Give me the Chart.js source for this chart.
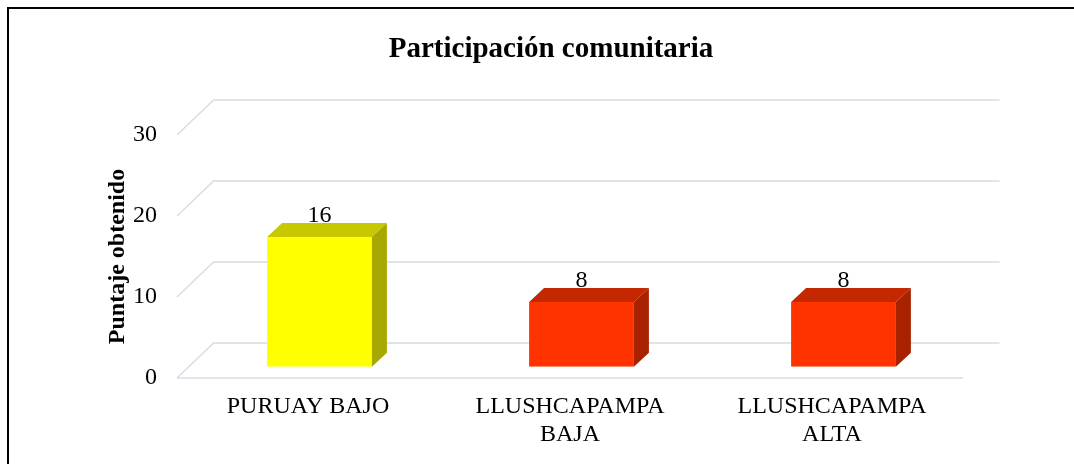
<!DOCTYPE html>
<html>
<head>
<meta charset="utf-8">
<script src="https://cdn.jsdelivr.net/npm/chart.js@4"></script>
<style>
  body { margin: 0; background: #fff; }
  canvas { display: block; }
</style>
</head>
<body>
<canvas id="chart" width="1074" height="464"></canvas>
<script>
const categories = [["PURUAY BAJO"], ["LLUSHCAPAMPA", "BAJA"], ["LLUSHCAPAMPA", "ALTA"]];
const puntajes = [16, 8, 8];
const yTicks = [0, 10, 20, 30];
const frontColors = ["#ffff00", "#ff3300", "#ff3300"];
const topColors = ["#c8c800", "#c42800", "#c42800"];
const sideColors = ["#a8a800", "#a82200", "#a82200"];

const serif = "'Liberation Serif', 'Times New Roman', serif";
Chart.defaults.font.family = serif;
Chart.defaults.color = "#000";

// depth of the floor/back wall and of the bars
const WALL = { dx: 36.6, dy: -35 };
const FRONT = { dx: 11.5, dy: -11.3 };
const DEPTH = { dx: 15, dy: -14 };

const walls = {
  id: "walls",
  beforeDatasetsDraw(chart) {
    const { ctx, chartArea: a, scales: { y } } = chart;
    ctx.save();
    ctx.strokeStyle = "#d9dce4";
    ctx.lineWidth = 1.5;
    yTicks.forEach(v => {
      const py = y.getPixelForValue(v);
      ctx.beginPath();
      ctx.moveTo(a.left, py);
      ctx.lineTo(a.left + WALL.dx, py + WALL.dy);
      ctx.lineTo(a.right + WALL.dx, py + WALL.dy);
      ctx.stroke();
    });
    const y0 = y.getPixelForValue(0);
    ctx.beginPath();
    ctx.moveTo(a.left, y0);
    ctx.lineTo(a.right, y0);
    ctx.stroke();
    ctx.restore();
  },
  beforeDatasetDraw(chart) {
    chart.ctx.save();
    chart.ctx.translate(FRONT.dx, FRONT.dy);
  },
  afterDatasetDraw(chart, args) {
    const ctx = chart.ctx;
    ctx.restore();
    const meta = chart.getDatasetMeta(args.index);
    meta.data.forEach((bar, i) => {
      const l = bar.x - bar.width / 2 + FRONT.dx;
      const r = bar.x + bar.width / 2 + FRONT.dx;
      const t = bar.y + FRONT.dy;
      const b = bar.base + FRONT.dy;
      ctx.fillStyle = topColors[i];
      ctx.beginPath();
      ctx.moveTo(l, t);
      ctx.lineTo(r, t);
      ctx.lineTo(r + DEPTH.dx, t + DEPTH.dy);
      ctx.lineTo(l + DEPTH.dx, t + DEPTH.dy);
      ctx.closePath();
      ctx.fill();
      ctx.fillStyle = sideColors[i];
      ctx.beginPath();
      ctx.moveTo(r, t);
      ctx.lineTo(r + DEPTH.dx, t + DEPTH.dy);
      ctx.lineTo(r + DEPTH.dx, b + DEPTH.dy);
      ctx.lineTo(r, b);
      ctx.closePath();
      ctx.fill();

      ctx.fillStyle = "#000";
      ctx.font = "24px " + serif;
      ctx.textAlign = "center";
      ctx.textBaseline = "alphabetic";
      ctx.fillText(puntajes[i], bar.x + FRONT.dx, t + DEPTH.dy - 1);
    });
  },
  afterDraw(chart) {
    const ctx = chart.ctx;
    ctx.save();
    ctx.fillStyle = "#000";
    ctx.font = "bold 29px " + serif;
    ctx.textAlign = "center";
    ctx.textBaseline = "alphabetic";
    ctx.fillText("Participación comunitaria", 551, 57);
    ctx.fillRect(7, 7, 2, chart.height);
    ctx.fillRect(7, 7, chart.width, 2);
    ctx.restore();
  }
};

new Chart(document.getElementById("chart"), {
  type: "bar",
  data: {
    labels: categories,
    datasets: [{
      data: puntajes,
      backgroundColor: frontColors,
      borderWidth: 0,
      barPercentage: 0.4,
      categoryPercentage: 1
    }]
  },
  options: {
    responsive: false,
    animation: false,
    layout: { padding: { left: 103, right: 111, top: 135, bottom: 0 } },
    plugins: { legend: { display: false }, tooltip: { enabled: false } },
    scales: {
      x: {
        grid: { display: false, drawTicks: false },
        border: { display: false },
        ticks: { padding: 15, font: { size: 24, lineHeight: 1.15 }, maxRotation: 0 },
        afterFit: s => { s.height = 86; }
      },
      y: {
        min: yTicks[0],
        max: yTicks[yTicks.length - 1],
        grid: { display: false, drawTicks: false },
        border: { display: false },
        ticks: { stepSize: 10, padding: 20, font: { size: 24 } },
        title: {
          display: true,
          text: "Puntaje obtenido",
          font: { size: 24, weight: "bold", lineHeight: 1.2 },
          padding: 0
        },
        afterFit: s => { s.width = 74; }
      }
    }
  },
  plugins: [walls]
});
</script>
</body>
</html>
